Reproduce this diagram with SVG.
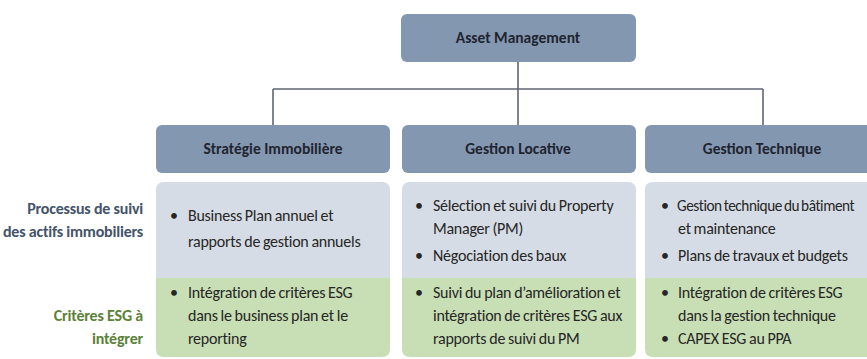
<svg xmlns="http://www.w3.org/2000/svg" width="867" height="359" viewBox="0 0 867 359">
<style>
.hdr{fill:#8497B0}
.gray{fill:#D6DCE5}
.green{fill:#C8DEB4}
.ht{font-family:Carlito,"Liberation Sans Narrow","Liberation Sans",sans-serif;font-weight:bold;font-size:15.5px;fill:#1F2530;text-anchor:middle}
.bt{font-family:Carlito,"Liberation Sans Narrow","Liberation Sans",sans-serif;font-size:16px;letter-spacing:-0.25px;word-spacing:-0.5px;fill:#262626}
.tight{font-size:15.3px;letter-spacing:-0.45px;word-spacing:-1px}
.lbl{font-family:Carlito,"Liberation Sans Narrow","Liberation Sans",sans-serif;font-weight:bold;font-size:16px;letter-spacing:-0.2px;text-anchor:end}
.conn{stroke:#5F6673;stroke-width:1.6;fill:none}
</style>
<rect width="867" height="359" fill="#FFFFFF"/>
<g id="connectors">
<path class="conn" d="M518,62 V89 M273,89 H763 M273,89 V125 M518,89 V125 M763,89 V125"/>
</g>
<g id="asset-management">
<rect class="hdr" x="401" y="14" width="235" height="48" rx="6"/>
<text class="ht" x="518" y="43">Asset Management</text>
</g>
<g id="strategie">
<rect class="hdr" x="156" y="125" width="234" height="48" rx="6"/>
<text class="ht" x="273" y="154">Stratégie Immobilière</text>
</g>
<g id="locative">
<rect class="hdr" x="402" y="125" width="234" height="48" rx="6"/>
<text class="ht" x="518" y="154">Gestion Locative</text>
</g>
<g id="technique">
<rect class="hdr" x="645" y="125" width="235" height="48" rx="6"/>
<text class="ht" x="762" y="154">Gestion Technique</text>
</g>
<g id="label-processus">
<text class="lbl" x="143" y="214" fill="#44546A">Processus de suivi</text>
<text class="lbl" x="143" y="237" fill="#44546A">des actifs immobiliers</text>
</g>
<g id="label-esg">
<text class="lbl" x="143" y="321" fill="#5B8238">Critères ESG à</text>
<text class="lbl" x="143" y="344" fill="#5B8238">intégrer</text>
</g>
<g id="strategie-body">
<path class="gray" d="M156,278 V190 Q156,182 164,182 H382 Q390,182 390,190 V278 Z"/>
<path class="green" d="M156,278 H390 V349 Q390,357 382,357 H164 Q156,357 156,349 Z"/>
<text class="bt" x="170" y="221">•</text>
<text class="bt" x="188" y="221">Business Plan annuel et</text>
<text class="bt" x="188" y="247">rapports de gestion annuels</text>
<text class="bt" x="170" y="298">•</text>
<text class="bt" x="188" y="298">Intégration de critères ESG</text>
<text class="bt" x="188" y="321">dans le business plan et le</text>
<text class="bt" x="188" y="344">reporting</text>
</g>
<g id="locative-body">
<path class="gray" d="M402,278 V190 Q402,182 410,182 H628 Q636,182 636,190 V278 Z"/>
<path class="green" d="M402,278 H636 V349 Q636,357 628,357 H410 Q402,357 402,349 Z"/>
<text class="bt" x="415" y="211">•</text>
<text class="bt" x="433" y="211">Sélection et suivi du Property</text>
<text class="bt" x="433" y="234">Manager (PM)</text>
<text class="bt" x="415" y="261">•</text>
<text class="bt" x="433" y="261">Négociation des baux</text>
<text class="bt" x="415" y="298">•</text>
<text class="bt" x="433" y="298">Suivi du plan d’amélioration et</text>
<text class="bt" x="433" y="321">intégration de critères ESG aux</text>
<text class="bt" x="433" y="344">rapports de suivi du PM</text>
</g>
<g id="technique-body">
<path class="gray" d="M645,278 V190 Q645,182 653,182 H872 Q880,182 880,190 V278 Z"/>
<path class="green" d="M645,278 H880 V349 Q880,357 872,357 H653 Q645,357 645,349 Z"/>
<text class="bt" x="661" y="211">•</text>
<text class="bt tight" x="677" y="211">Gestion technique du bâtiment</text>
<text class="bt" x="678" y="234">et maintenance</text>
<text class="bt" x="661" y="261">•</text>
<text class="bt" x="678" y="261">Plans de travaux et budgets</text>
<text class="bt" x="661" y="298">•</text>
<text class="bt" x="678" y="298">Intégration de critères ESG</text>
<text class="bt" x="678" y="321">dans la gestion technique</text>
<text class="bt" x="661" y="344">•</text>
<text class="bt" x="678" y="344">CAPEX ESG au PPA</text>
</g>
</svg>
